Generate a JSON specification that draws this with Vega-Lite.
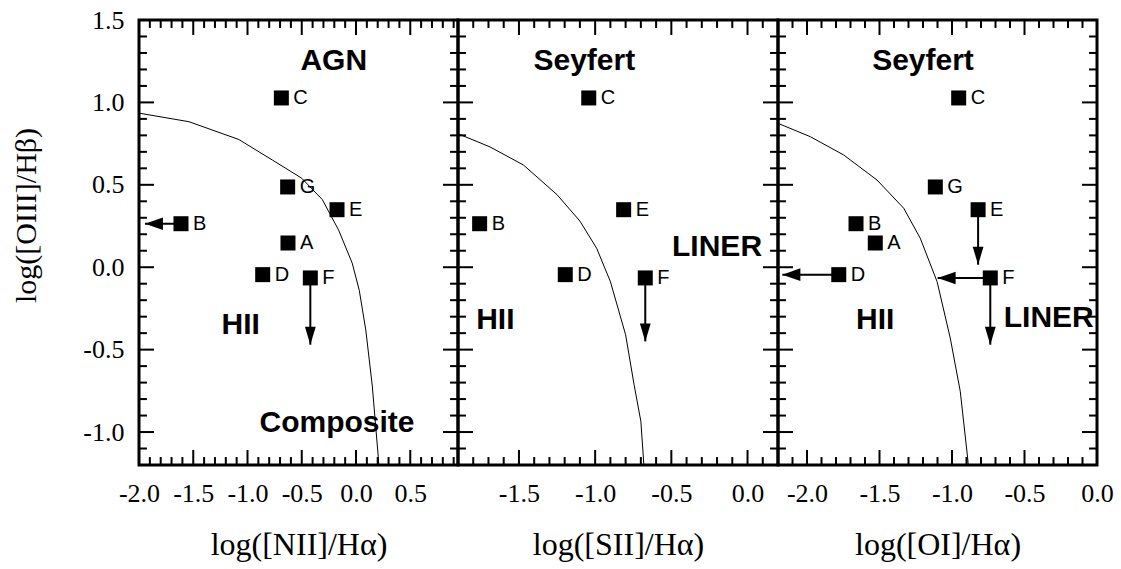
{
  "$schema": "https://vega.github.io/schema/vega-lite/v6.json",
  "autosize": {"type": "pad"},
  "padding": {"left": 9, "top": 5, "right": 5, "bottom": 5},
  "background": "white",
  "spacing": 0,
  "bounds": "flush",
  "config": {
    "view": {"stroke": "black", "strokeWidth": 3},
    "axis": {
      "grid": false,
      "domain": false,
      "ticks": false,
      "tickSize": 0,
      "labelPadding": 15,
      "labelFont": "Liberation Serif",
      "labelFontSize": 26,
      "labelColor": "black",
      "titleFont": "Liberation Serif",
      "titleFontWeight": "normal",
      "titleColor": "black",
      "labelFlush": false,
      "labelOverlap": false,
      "labelBound": false
    }
  },
  "datasets": {
    "xticks": [
      {"panel": "NII", "x": -1.9, "kind": "minor", "lo": -1.2, "hi": 1.5}, {"panel": "NII", "x": -1.8, "kind": "minor", "lo": -1.2, "hi": 1.5},
      {"panel": "NII", "x": -1.7, "kind": "minor", "lo": -1.2, "hi": 1.5}, {"panel": "NII", "x": -1.6, "kind": "minor", "lo": -1.2, "hi": 1.5},
      {"panel": "NII", "x": -1.5, "kind": "major", "lo": -1.2, "hi": 1.5}, {"panel": "NII", "x": -1.4, "kind": "minor", "lo": -1.2, "hi": 1.5},
      {"panel": "NII", "x": -1.3, "kind": "minor", "lo": -1.2, "hi": 1.5}, {"panel": "NII", "x": -1.2, "kind": "minor", "lo": -1.2, "hi": 1.5},
      {"panel": "NII", "x": -1.1, "kind": "minor", "lo": -1.2, "hi": 1.5}, {"panel": "NII", "x": -1.0, "kind": "major", "lo": -1.2, "hi": 1.5},
      {"panel": "NII", "x": -0.9, "kind": "minor", "lo": -1.2, "hi": 1.5}, {"panel": "NII", "x": -0.8, "kind": "minor", "lo": -1.2, "hi": 1.5},
      {"panel": "NII", "x": -0.7, "kind": "minor", "lo": -1.2, "hi": 1.5}, {"panel": "NII", "x": -0.6, "kind": "minor", "lo": -1.2, "hi": 1.5},
      {"panel": "NII", "x": -0.5, "kind": "major", "lo": -1.2, "hi": 1.5}, {"panel": "NII", "x": -0.4, "kind": "minor", "lo": -1.2, "hi": 1.5},
      {"panel": "NII", "x": -0.3, "kind": "minor", "lo": -1.2, "hi": 1.5}, {"panel": "NII", "x": -0.2, "kind": "minor", "lo": -1.2, "hi": 1.5},
      {"panel": "NII", "x": -0.1, "kind": "minor", "lo": -1.2, "hi": 1.5}, {"panel": "NII", "x": 0.0, "kind": "major", "lo": -1.2, "hi": 1.5},
      {"panel": "NII", "x": 0.1, "kind": "minor", "lo": -1.2, "hi": 1.5}, {"panel": "NII", "x": 0.2, "kind": "minor", "lo": -1.2, "hi": 1.5},
      {"panel": "NII", "x": 0.3, "kind": "minor", "lo": -1.2, "hi": 1.5}, {"panel": "NII", "x": 0.4, "kind": "minor", "lo": -1.2, "hi": 1.5},
      {"panel": "NII", "x": 0.5, "kind": "major", "lo": -1.2, "hi": 1.5}, {"panel": "NII", "x": 0.6, "kind": "minor", "lo": -1.2, "hi": 1.5},
      {"panel": "NII", "x": 0.7, "kind": "minor", "lo": -1.2, "hi": 1.5}, {"panel": "NII", "x": 0.8, "kind": "minor", "lo": -1.2, "hi": 1.5},
      {"panel": "NII", "x": 0.9, "kind": "minor", "lo": -1.2, "hi": 1.5},
      {"panel": "SII", "x": -1.8, "kind": "minor", "lo": -1.2, "hi": 1.5}, {"panel": "SII", "x": -1.7, "kind": "minor", "lo": -1.2, "hi": 1.5},
      {"panel": "SII", "x": -1.6, "kind": "minor", "lo": -1.2, "hi": 1.5}, {"panel": "SII", "x": -1.5, "kind": "major", "lo": -1.2, "hi": 1.5},
      {"panel": "SII", "x": -1.4, "kind": "minor", "lo": -1.2, "hi": 1.5}, {"panel": "SII", "x": -1.3, "kind": "minor", "lo": -1.2, "hi": 1.5},
      {"panel": "SII", "x": -1.2, "kind": "minor", "lo": -1.2, "hi": 1.5}, {"panel": "SII", "x": -1.1, "kind": "minor", "lo": -1.2, "hi": 1.5},
      {"panel": "SII", "x": -1.0, "kind": "major", "lo": -1.2, "hi": 1.5}, {"panel": "SII", "x": -0.9, "kind": "minor", "lo": -1.2, "hi": 1.5},
      {"panel": "SII", "x": -0.8, "kind": "minor", "lo": -1.2, "hi": 1.5}, {"panel": "SII", "x": -0.7, "kind": "minor", "lo": -1.2, "hi": 1.5},
      {"panel": "SII", "x": -0.6, "kind": "minor", "lo": -1.2, "hi": 1.5}, {"panel": "SII", "x": -0.5, "kind": "major", "lo": -1.2, "hi": 1.5},
      {"panel": "SII", "x": -0.4, "kind": "minor", "lo": -1.2, "hi": 1.5}, {"panel": "SII", "x": -0.3, "kind": "minor", "lo": -1.2, "hi": 1.5},
      {"panel": "SII", "x": -0.2, "kind": "minor", "lo": -1.2, "hi": 1.5}, {"panel": "SII", "x": -0.1, "kind": "minor", "lo": -1.2, "hi": 1.5},
      {"panel": "SII", "x": 0.0, "kind": "major", "lo": -1.2, "hi": 1.5}, {"panel": "SII", "x": 0.1, "kind": "minor", "lo": -1.2, "hi": 1.5},
      {"panel": "OI", "x": -2.1, "kind": "minor", "lo": -1.2, "hi": 1.5}, {"panel": "OI", "x": -2.0, "kind": "major", "lo": -1.2, "hi": 1.5},
      {"panel": "OI", "x": -1.9, "kind": "minor", "lo": -1.2, "hi": 1.5}, {"panel": "OI", "x": -1.8, "kind": "minor", "lo": -1.2, "hi": 1.5},
      {"panel": "OI", "x": -1.7, "kind": "minor", "lo": -1.2, "hi": 1.5}, {"panel": "OI", "x": -1.6, "kind": "minor", "lo": -1.2, "hi": 1.5},
      {"panel": "OI", "x": -1.5, "kind": "major", "lo": -1.2, "hi": 1.5}, {"panel": "OI", "x": -1.4, "kind": "minor", "lo": -1.2, "hi": 1.5},
      {"panel": "OI", "x": -1.3, "kind": "minor", "lo": -1.2, "hi": 1.5}, {"panel": "OI", "x": -1.2, "kind": "minor", "lo": -1.2, "hi": 1.5},
      {"panel": "OI", "x": -1.1, "kind": "minor", "lo": -1.2, "hi": 1.5}, {"panel": "OI", "x": -1.0, "kind": "major", "lo": -1.2, "hi": 1.5},
      {"panel": "OI", "x": -0.9, "kind": "minor", "lo": -1.2, "hi": 1.5}, {"panel": "OI", "x": -0.8, "kind": "minor", "lo": -1.2, "hi": 1.5},
      {"panel": "OI", "x": -0.7, "kind": "minor", "lo": -1.2, "hi": 1.5}, {"panel": "OI", "x": -0.6, "kind": "minor", "lo": -1.2, "hi": 1.5},
      {"panel": "OI", "x": -0.5, "kind": "major", "lo": -1.2, "hi": 1.5}, {"panel": "OI", "x": -0.4, "kind": "minor", "lo": -1.2, "hi": 1.5},
      {"panel": "OI", "x": -0.3, "kind": "minor", "lo": -1.2, "hi": 1.5}, {"panel": "OI", "x": -0.2, "kind": "minor", "lo": -1.2, "hi": 1.5},
      {"panel": "OI", "x": -0.1, "kind": "minor", "lo": -1.2, "hi": 1.5}
    ],
    "yticks": [
      {"panel": "NII", "y": -1.1, "kind": "minor", "lo": -2, "hi": 0.94}, {"panel": "NII", "y": -1.0, "kind": "major", "lo": -2, "hi": 0.94},
      {"panel": "NII", "y": -0.9, "kind": "minor", "lo": -2, "hi": 0.94}, {"panel": "NII", "y": -0.8, "kind": "minor", "lo": -2, "hi": 0.94},
      {"panel": "NII", "y": -0.7, "kind": "minor", "lo": -2, "hi": 0.94}, {"panel": "NII", "y": -0.6, "kind": "minor", "lo": -2, "hi": 0.94},
      {"panel": "NII", "y": -0.5, "kind": "major", "lo": -2, "hi": 0.94}, {"panel": "NII", "y": -0.4, "kind": "minor", "lo": -2, "hi": 0.94},
      {"panel": "NII", "y": -0.3, "kind": "minor", "lo": -2, "hi": 0.94}, {"panel": "NII", "y": -0.2, "kind": "minor", "lo": -2, "hi": 0.94},
      {"panel": "NII", "y": -0.1, "kind": "minor", "lo": -2, "hi": 0.94}, {"panel": "NII", "y": 0.0, "kind": "major", "lo": -2, "hi": 0.94},
      {"panel": "NII", "y": 0.1, "kind": "minor", "lo": -2, "hi": 0.94}, {"panel": "NII", "y": 0.2, "kind": "minor", "lo": -2, "hi": 0.94},
      {"panel": "NII", "y": 0.3, "kind": "minor", "lo": -2, "hi": 0.94}, {"panel": "NII", "y": 0.4, "kind": "minor", "lo": -2, "hi": 0.94},
      {"panel": "NII", "y": 0.5, "kind": "major", "lo": -2, "hi": 0.94}, {"panel": "NII", "y": 0.6, "kind": "minor", "lo": -2, "hi": 0.94},
      {"panel": "NII", "y": 0.7, "kind": "minor", "lo": -2, "hi": 0.94}, {"panel": "NII", "y": 0.8, "kind": "minor", "lo": -2, "hi": 0.94},
      {"panel": "NII", "y": 0.9, "kind": "minor", "lo": -2, "hi": 0.94}, {"panel": "NII", "y": 1.0, "kind": "major", "lo": -2, "hi": 0.94},
      {"panel": "NII", "y": 1.1, "kind": "minor", "lo": -2, "hi": 0.94}, {"panel": "NII", "y": 1.2, "kind": "minor", "lo": -2, "hi": 0.94},
      {"panel": "NII", "y": 1.3, "kind": "minor", "lo": -2, "hi": 0.94}, {"panel": "NII", "y": 1.4, "kind": "minor", "lo": -2, "hi": 0.94},
      {"panel": "SII", "y": -1.1, "kind": "minor", "lo": -1.9, "hi": 0.2}, {"panel": "SII", "y": -1.0, "kind": "major", "lo": -1.9, "hi": 0.2},
      {"panel": "SII", "y": -0.9, "kind": "minor", "lo": -1.9, "hi": 0.2}, {"panel": "SII", "y": -0.8, "kind": "minor", "lo": -1.9, "hi": 0.2},
      {"panel": "SII", "y": -0.7, "kind": "minor", "lo": -1.9, "hi": 0.2}, {"panel": "SII", "y": -0.6, "kind": "minor", "lo": -1.9, "hi": 0.2},
      {"panel": "SII", "y": -0.5, "kind": "major", "lo": -1.9, "hi": 0.2}, {"panel": "SII", "y": -0.4, "kind": "minor", "lo": -1.9, "hi": 0.2},
      {"panel": "SII", "y": -0.3, "kind": "minor", "lo": -1.9, "hi": 0.2}, {"panel": "SII", "y": -0.2, "kind": "minor", "lo": -1.9, "hi": 0.2},
      {"panel": "SII", "y": -0.1, "kind": "minor", "lo": -1.9, "hi": 0.2}, {"panel": "SII", "y": 0.0, "kind": "major", "lo": -1.9, "hi": 0.2},
      {"panel": "SII", "y": 0.1, "kind": "minor", "lo": -1.9, "hi": 0.2}, {"panel": "SII", "y": 0.2, "kind": "minor", "lo": -1.9, "hi": 0.2},
      {"panel": "SII", "y": 0.3, "kind": "minor", "lo": -1.9, "hi": 0.2}, {"panel": "SII", "y": 0.4, "kind": "minor", "lo": -1.9, "hi": 0.2},
      {"panel": "SII", "y": 0.5, "kind": "major", "lo": -1.9, "hi": 0.2}, {"panel": "SII", "y": 0.6, "kind": "minor", "lo": -1.9, "hi": 0.2},
      {"panel": "SII", "y": 0.7, "kind": "minor", "lo": -1.9, "hi": 0.2}, {"panel": "SII", "y": 0.8, "kind": "minor", "lo": -1.9, "hi": 0.2},
      {"panel": "SII", "y": 0.9, "kind": "minor", "lo": -1.9, "hi": 0.2}, {"panel": "SII", "y": 1.0, "kind": "major", "lo": -1.9, "hi": 0.2},
      {"panel": "SII", "y": 1.1, "kind": "minor", "lo": -1.9, "hi": 0.2}, {"panel": "SII", "y": 1.2, "kind": "minor", "lo": -1.9, "hi": 0.2},
      {"panel": "SII", "y": 1.3, "kind": "minor", "lo": -1.9, "hi": 0.2}, {"panel": "SII", "y": 1.4, "kind": "minor", "lo": -1.9, "hi": 0.2},
      {"panel": "OI", "y": -1.1, "kind": "minor", "lo": -2.2, "hi": 0}, {"panel": "OI", "y": -1.0, "kind": "major", "lo": -2.2, "hi": 0},
      {"panel": "OI", "y": -0.9, "kind": "minor", "lo": -2.2, "hi": 0}, {"panel": "OI", "y": -0.8, "kind": "minor", "lo": -2.2, "hi": 0},
      {"panel": "OI", "y": -0.7, "kind": "minor", "lo": -2.2, "hi": 0}, {"panel": "OI", "y": -0.6, "kind": "minor", "lo": -2.2, "hi": 0},
      {"panel": "OI", "y": -0.5, "kind": "major", "lo": -2.2, "hi": 0}, {"panel": "OI", "y": -0.4, "kind": "minor", "lo": -2.2, "hi": 0},
      {"panel": "OI", "y": -0.3, "kind": "minor", "lo": -2.2, "hi": 0}, {"panel": "OI", "y": -0.2, "kind": "minor", "lo": -2.2, "hi": 0},
      {"panel": "OI", "y": -0.1, "kind": "minor", "lo": -2.2, "hi": 0}, {"panel": "OI", "y": 0.0, "kind": "major", "lo": -2.2, "hi": 0},
      {"panel": "OI", "y": 0.1, "kind": "minor", "lo": -2.2, "hi": 0}, {"panel": "OI", "y": 0.2, "kind": "minor", "lo": -2.2, "hi": 0},
      {"panel": "OI", "y": 0.3, "kind": "minor", "lo": -2.2, "hi": 0}, {"panel": "OI", "y": 0.4, "kind": "minor", "lo": -2.2, "hi": 0},
      {"panel": "OI", "y": 0.5, "kind": "major", "lo": -2.2, "hi": 0}, {"panel": "OI", "y": 0.6, "kind": "minor", "lo": -2.2, "hi": 0},
      {"panel": "OI", "y": 0.7, "kind": "minor", "lo": -2.2, "hi": 0}, {"panel": "OI", "y": 0.8, "kind": "minor", "lo": -2.2, "hi": 0},
      {"panel": "OI", "y": 0.9, "kind": "minor", "lo": -2.2, "hi": 0}, {"panel": "OI", "y": 1.0, "kind": "major", "lo": -2.2, "hi": 0},
      {"panel": "OI", "y": 1.1, "kind": "minor", "lo": -2.2, "hi": 0}, {"panel": "OI", "y": 1.2, "kind": "minor", "lo": -2.2, "hi": 0},
      {"panel": "OI", "y": 1.3, "kind": "minor", "lo": -2.2, "hi": 0}, {"panel": "OI", "y": 1.4, "kind": "minor", "lo": -2.2, "hi": 0}
    ],
    "curves": [
      {"panel": "NII", "i": 0, "x": -2.0, "y": 0.935},
      {"panel": "NII", "i": 1, "x": -1.54, "y": 0.883},
      {"panel": "NII", "i": 2, "x": -1.08, "y": 0.775},
      {"panel": "NII", "i": 3, "x": -0.77, "y": 0.65},
      {"panel": "NII", "i": 4, "x": -0.5, "y": 0.54},
      {"panel": "NII", "i": 5, "x": -0.31, "y": 0.41},
      {"panel": "NII", "i": 6, "x": -0.16, "y": 0.225},
      {"panel": "NII", "i": 7, "x": -0.035, "y": 0.025},
      {"panel": "NII", "i": 8, "x": 0.03, "y": -0.14},
      {"panel": "NII", "i": 9, "x": 0.09, "y": -0.38},
      {"panel": "NII", "i": 10, "x": 0.15, "y": -0.72},
      {"panel": "NII", "i": 11, "x": 0.205, "y": -1.15},
      {"panel": "NII", "i": 12, "x": 0.21, "y": -1.2},
      {"panel": "SII", "i": 0, "x": -1.9, "y": 0.81},
      {"panel": "SII", "i": 1, "x": -1.69, "y": 0.73},
      {"panel": "SII", "i": 2, "x": -1.47, "y": 0.62},
      {"panel": "SII", "i": 3, "x": -1.25, "y": 0.44},
      {"panel": "SII", "i": 4, "x": -1.1, "y": 0.28},
      {"panel": "SII", "i": 5, "x": -0.99, "y": 0.115},
      {"panel": "SII", "i": 6, "x": -0.9, "y": -0.087},
      {"panel": "SII", "i": 7, "x": -0.8, "y": -0.41},
      {"panel": "SII", "i": 8, "x": -0.745, "y": -0.71},
      {"panel": "SII", "i": 9, "x": -0.7, "y": -0.935},
      {"panel": "SII", "i": 10, "x": -0.68, "y": -1.2},
      {"panel": "OI", "i": 0, "x": -2.2, "y": 0.873},
      {"panel": "OI", "i": 1, "x": -1.977, "y": 0.792},
      {"panel": "OI", "i": 2, "x": -1.747, "y": 0.681},
      {"panel": "OI", "i": 3, "x": -1.517, "y": 0.529},
      {"panel": "OI", "i": 4, "x": -1.333, "y": 0.358},
      {"panel": "OI", "i": 5, "x": -1.219, "y": 0.176},
      {"panel": "OI", "i": 6, "x": -1.103, "y": -0.087},
      {"panel": "OI", "i": 7, "x": -1.012, "y": -0.43},
      {"panel": "OI", "i": 8, "x": -0.943, "y": -0.753},
      {"panel": "OI", "i": 9, "x": -0.892, "y": -1.158},
      {"panel": "OI", "i": 10, "x": -0.888, "y": -1.2}
    ],
    "points": [
      {"panel": "NII", "name": "A", "x": -0.627, "y": 0.147},
      {"panel": "NII", "name": "B", "x": -1.613, "y": 0.264},
      {"panel": "NII", "name": "C", "x": -0.688, "y": 1.027},
      {"panel": "NII", "name": "D", "x": -0.86, "y": -0.045},
      {"panel": "NII", "name": "E", "x": -0.175, "y": 0.349},
      {"panel": "NII", "name": "F", "x": -0.421, "y": -0.065},
      {"panel": "NII", "name": "G", "x": -0.63, "y": 0.487},
      {"panel": "SII", "name": "B", "x": -1.758, "y": 0.264},
      {"panel": "SII", "name": "C", "x": -1.042, "y": 1.027},
      {"panel": "SII", "name": "D", "x": -1.196, "y": -0.045},
      {"panel": "SII", "name": "E", "x": -0.813, "y": 0.349},
      {"panel": "SII", "name": "F", "x": -0.671, "y": -0.065},
      {"panel": "OI", "name": "A", "x": -1.529, "y": 0.147},
      {"panel": "OI", "name": "B", "x": -1.662, "y": 0.264},
      {"panel": "OI", "name": "C", "x": -0.954, "y": 1.027},
      {"panel": "OI", "name": "D", "x": -1.781, "y": -0.045},
      {"panel": "OI", "name": "E", "x": -0.82, "y": 0.349},
      {"panel": "OI", "name": "F", "x": -0.736, "y": -0.065},
      {"panel": "OI", "name": "G", "x": -1.115, "y": 0.487}
    ],
    "arrows": [
      {"panel": "NII", "name": "B", "x": -1.613, "y": 0.264, "x2": -1.945, "y2": 0.264, "dir": "left"},
      {"panel": "NII", "name": "F", "x": -0.421, "y": -0.065, "x2": -0.421, "y2": -0.47, "dir": "down"},
      {"panel": "SII", "name": "F", "x": -0.671, "y": -0.065, "x2": -0.671, "y2": -0.45, "dir": "down"},
      {"panel": "OI", "name": "D", "x": -1.781, "y": -0.045, "x2": -2.17, "y2": -0.045, "dir": "left"},
      {"panel": "OI", "name": "F", "x": -0.736, "y": -0.065, "x2": -1.099, "y2": -0.065, "dir": "left"},
      {"panel": "OI", "name": "F", "x": -0.736, "y": -0.065, "x2": -0.736, "y2": -0.47, "dir": "down"},
      {"panel": "OI", "name": "E", "x": -0.82, "y": 0.349, "x2": -0.82, "y2": 0.015, "dir": "down"}
    ],
    "regions": [
      {"panel": "NII", "label": "AGN", "x": -0.205, "y": 1.249},
      {"panel": "NII", "label": "HII", "x": -1.063, "y": -0.349},
      {"panel": "NII", "label": "Composite", "x": -0.175, "y": -0.945},
      {"panel": "SII", "label": "Seyfert", "x": -1.071, "y": 1.249},
      {"panel": "SII", "label": "LINER", "x": -0.2, "y": 0.125},
      {"panel": "SII", "label": "HII", "x": -1.655, "y": -0.319},
      {"panel": "OI", "label": "Seyfert", "x": -1.2, "y": 1.249},
      {"panel": "OI", "label": "HII", "x": -1.529, "y": -0.319},
      {"panel": "OI", "label": "LINER", "x": -0.333, "y": -0.308}
    ]
  },
  "hconcat": [
    {
      "width": 319,
      "height": 445,
      "resolve": {"axis": {"x": "independent", "y": "independent"}, "scale": {"shape": "independent"}},
      "layer": [
        {
          "data": {"name": "xticks"},
          "transform": [{"filter": "datum.panel === 'NII'"}],
          "mark": {"type": "point", "filled": true, "size": 900, "color": "black", "opacity": 1, "strokeWidth": 0},
          "encoding": {
            "x": {"field": "x", "type": "quantitative", "scale": {"domain": [-2, 0.94], "nice": false, "zero": false}, "axis": null},
            "y": {"field": "lo", "type": "quantitative", "scale": {"domain": [-1.2, 1.5], "nice": false, "zero": false}, "axis": null},
            "shape": {"field": "kind", "type": "nominal", "legend": null,
              "scale": {"domain": ["major", "minor"], "range": ["M -0.067 0 L 0.067 0 L 0.067 -1 L -0.067 -1 Z", "M -0.067 0 L 0.067 0 L 0.067 -0.53 L -0.067 -0.53 Z"]}}
          }
        },
        {
          "data": {"name": "xticks"},
          "transform": [{"filter": "datum.panel === 'NII'"}],
          "mark": {"type": "point", "filled": true, "size": 900, "color": "black", "opacity": 1, "strokeWidth": 0},
          "encoding": {
            "x": {"field": "x", "type": "quantitative", "scale": {"domain": [-2, 0.94], "nice": false, "zero": false}, "axis": null},
            "y": {"field": "hi", "type": "quantitative", "scale": {"domain": [-1.2, 1.5], "nice": false, "zero": false}, "axis": null},
            "shape": {"field": "kind", "type": "nominal", "legend": null,
              "scale": {"domain": ["major", "minor"], "range": ["M -0.067 0 L 0.067 0 L 0.067 1 L -0.067 1 Z", "M -0.067 0 L 0.067 0 L 0.067 0.53 L -0.067 0.53 Z"]}}
          }
        },
        {
          "data": {"name": "yticks"},
          "transform": [{"filter": "datum.panel === 'NII'"}],
          "mark": {"type": "point", "filled": true, "size": 900, "color": "black", "opacity": 1, "strokeWidth": 0},
          "encoding": {
            "x": {"field": "lo", "type": "quantitative", "scale": {"domain": [-2, 0.94], "nice": false, "zero": false}, "axis": null},
            "y": {"field": "y", "type": "quantitative", "scale": {"domain": [-1.2, 1.5], "nice": false, "zero": false}, "axis": null},
            "shape": {"field": "kind", "type": "nominal", "legend": null,
              "scale": {"domain": ["major", "minor"], "range": ["M 0 -0.067 L 1 -0.067 L 1 0.067 L 0 0.067 Z", "M 0 -0.067 L 0.53 -0.067 L 0.53 0.067 L 0 0.067 Z"]}}
          }
        },
        {
          "data": {"name": "yticks"},
          "transform": [{"filter": "datum.panel === 'NII'"}],
          "mark": {"type": "point", "filled": true, "size": 900, "color": "black", "opacity": 1, "strokeWidth": 0},
          "encoding": {
            "x": {"field": "hi", "type": "quantitative", "scale": {"domain": [-2, 0.94], "nice": false, "zero": false}, "axis": null},
            "y": {"field": "y", "type": "quantitative", "scale": {"domain": [-1.2, 1.5], "nice": false, "zero": false}, "axis": null},
            "shape": {"field": "kind", "type": "nominal", "legend": null,
              "scale": {"domain": ["major", "minor"], "range": ["M 0 -0.067 L -1 -0.067 L -1 0.067 L 0 0.067 Z", "M 0 -0.067 L -0.53 -0.067 L -0.53 0.067 L 0 0.067 Z"]}}
          }
        },
        {
          "data": {"name": "curves"},
          "transform": [{"filter": "datum.panel === 'NII'"}],
          "mark": {"type": "line", "color": "black", "strokeWidth": 1},
          "encoding": {
            "x": {"field": "x", "type": "quantitative", "scale": {"domain": [-2, 0.94], "nice": false, "zero": false}, "axis": null},
            "y": {"field": "y", "type": "quantitative", "scale": {"domain": [-1.2, 1.5], "nice": false, "zero": false}, "axis": null},
            "order": {"field": "i", "type": "quantitative"}
          }
        },
        {
          "data": {"name": "points"},
          "transform": [{"filter": "datum.panel === 'NII'"}],
          "mark": {"type": "point", "shape": "square", "filled": true, "size": 225, "color": "black", "opacity": 1, "strokeWidth": 0},
          "encoding": {
            "x": {"field": "x", "type": "quantitative", "scale": {"domain": [-2, 0.94], "nice": false, "zero": false},
              "axis": {"orient": "bottom", "title": "log([NII]/Hα)", "titleFontSize": 32, "titleY": 89, "titleBaseline": "alphabetic",
                "values": [-2,-1.5,-1,-0.5,0,0.5],
                "labelExpr": "(datum.value < -0.001 ? '-' : '') + format(abs(datum.value), '.1f')"}},
            "y": {"field": "y", "type": "quantitative", "scale": {"domain": [-1.2, 1.5], "nice": false, "zero": false},
              "axis": {"orient": "left", "title": "log([OIII]/Hβ)", "titleFontSize": 30, "titleX": -104, "titleY": 195, "titleBaseline": "alphabetic", "titleAngle": -90,
                "values": [-1,-0.5,0,0.5,1,1.5],
                "labelExpr": "(datum.value < -0.001 ? '-' : '') + format(abs(datum.value), '.1f')"}}
          }
        },
        {
          "data": {"name": "arrows"},
          "transform": [{"filter": "datum.panel === 'NII'"}],
          "mark": {"type": "rule", "color": "black", "strokeWidth": 2},
          "encoding": {
            "x": {"field": "x", "type": "quantitative", "scale": {"domain": [-2, 0.94], "nice": false, "zero": false}, "axis": null},
            "y": {"field": "y", "type": "quantitative", "scale": {"domain": [-1.2, 1.5], "nice": false, "zero": false}, "axis": null},
            "x2": {"field": "x2"},
            "y2": {"field": "y2"}
          }
        },
        {
          "data": {"name": "arrows"},
          "transform": [{"filter": "datum.panel === 'NII'"}],
          "mark": {"type": "point", "filled": true, "size": 324, "color": "black", "opacity": 1, "strokeWidth": 0},
          "encoding": {
            "x": {"field": "x2", "type": "quantitative", "scale": {"domain": [-2, 0.94], "nice": false, "zero": false}, "axis": null},
            "y": {"field": "y2", "type": "quantitative", "scale": {"domain": [-1.2, 1.5], "nice": false, "zero": false}, "axis": null},
            "shape": {"field": "dir", "type": "nominal", "legend": null,
              "scale": {"domain": ["left", "down"], "range": ["M 0 0 L 2 -0.7 L 2 0.7 Z", "M 0 0 L -0.6 -2 L 0.6 -2 Z"]}}
          }
        },
        {
          "data": {"name": "points"},
          "transform": [{"filter": "datum.panel === 'NII'"}],
          "mark": {"type": "text", "align": "left", "baseline": "middle", "dx": 12, "font": "Liberation Sans", "fontSize": 20, "color": "black"},
          "encoding": {
            "x": {"field": "x", "type": "quantitative", "scale": {"domain": [-2, 0.94], "nice": false, "zero": false}, "axis": null},
            "y": {"field": "y", "type": "quantitative", "scale": {"domain": [-1.2, 1.5], "nice": false, "zero": false}, "axis": null},
            "text": {"field": "name"}
          }
        },
        {
          "data": {"name": "regions"},
          "transform": [{"filter": "datum.panel === 'NII'"}],
          "mark": {"type": "text", "align": "center", "baseline": "middle", "font": "Liberation Sans", "fontWeight": "bold", "fontSize": 30, "color": "black"},
          "encoding": {
            "x": {"field": "x", "type": "quantitative", "scale": {"domain": [-2, 0.94], "nice": false, "zero": false}, "axis": null},
            "y": {"field": "y", "type": "quantitative", "scale": {"domain": [-1.2, 1.5], "nice": false, "zero": false}, "axis": null},
            "text": {"field": "label"}
          }
        }
      ]
    },
    {
      "width": 320,
      "height": 445,
      "resolve": {"axis": {"x": "independent", "y": "independent"}, "scale": {"shape": "independent"}},
      "layer": [
        {
          "data": {"name": "xticks"},
          "transform": [{"filter": "datum.panel === 'SII'"}],
          "mark": {"type": "point", "filled": true, "size": 900, "color": "black", "opacity": 1, "strokeWidth": 0},
          "encoding": {
            "x": {"field": "x", "type": "quantitative", "scale": {"domain": [-1.9, 0.2], "nice": false, "zero": false}, "axis": null},
            "y": {"field": "lo", "type": "quantitative", "scale": {"domain": [-1.2, 1.5], "nice": false, "zero": false}, "axis": null},
            "shape": {"field": "kind", "type": "nominal", "legend": null,
              "scale": {"domain": ["major", "minor"], "range": ["M -0.067 0 L 0.067 0 L 0.067 -1 L -0.067 -1 Z", "M -0.067 0 L 0.067 0 L 0.067 -0.53 L -0.067 -0.53 Z"]}}
          }
        },
        {
          "data": {"name": "xticks"},
          "transform": [{"filter": "datum.panel === 'SII'"}],
          "mark": {"type": "point", "filled": true, "size": 900, "color": "black", "opacity": 1, "strokeWidth": 0},
          "encoding": {
            "x": {"field": "x", "type": "quantitative", "scale": {"domain": [-1.9, 0.2], "nice": false, "zero": false}, "axis": null},
            "y": {"field": "hi", "type": "quantitative", "scale": {"domain": [-1.2, 1.5], "nice": false, "zero": false}, "axis": null},
            "shape": {"field": "kind", "type": "nominal", "legend": null,
              "scale": {"domain": ["major", "minor"], "range": ["M -0.067 0 L 0.067 0 L 0.067 1 L -0.067 1 Z", "M -0.067 0 L 0.067 0 L 0.067 0.53 L -0.067 0.53 Z"]}}
          }
        },
        {
          "data": {"name": "yticks"},
          "transform": [{"filter": "datum.panel === 'SII'"}],
          "mark": {"type": "point", "filled": true, "size": 900, "color": "black", "opacity": 1, "strokeWidth": 0},
          "encoding": {
            "x": {"field": "lo", "type": "quantitative", "scale": {"domain": [-1.9, 0.2], "nice": false, "zero": false}, "axis": null},
            "y": {"field": "y", "type": "quantitative", "scale": {"domain": [-1.2, 1.5], "nice": false, "zero": false}, "axis": null},
            "shape": {"field": "kind", "type": "nominal", "legend": null,
              "scale": {"domain": ["major", "minor"], "range": ["M 0 -0.067 L 1 -0.067 L 1 0.067 L 0 0.067 Z", "M 0 -0.067 L 0.53 -0.067 L 0.53 0.067 L 0 0.067 Z"]}}
          }
        },
        {
          "data": {"name": "yticks"},
          "transform": [{"filter": "datum.panel === 'SII'"}],
          "mark": {"type": "point", "filled": true, "size": 900, "color": "black", "opacity": 1, "strokeWidth": 0},
          "encoding": {
            "x": {"field": "hi", "type": "quantitative", "scale": {"domain": [-1.9, 0.2], "nice": false, "zero": false}, "axis": null},
            "y": {"field": "y", "type": "quantitative", "scale": {"domain": [-1.2, 1.5], "nice": false, "zero": false}, "axis": null},
            "shape": {"field": "kind", "type": "nominal", "legend": null,
              "scale": {"domain": ["major", "minor"], "range": ["M 0 -0.067 L -1 -0.067 L -1 0.067 L 0 0.067 Z", "M 0 -0.067 L -0.53 -0.067 L -0.53 0.067 L 0 0.067 Z"]}}
          }
        },
        {
          "data": {"name": "curves"},
          "transform": [{"filter": "datum.panel === 'SII'"}],
          "mark": {"type": "line", "color": "black", "strokeWidth": 1},
          "encoding": {
            "x": {"field": "x", "type": "quantitative", "scale": {"domain": [-1.9, 0.2], "nice": false, "zero": false}, "axis": null},
            "y": {"field": "y", "type": "quantitative", "scale": {"domain": [-1.2, 1.5], "nice": false, "zero": false}, "axis": null},
            "order": {"field": "i", "type": "quantitative"}
          }
        },
        {
          "data": {"name": "points"},
          "transform": [{"filter": "datum.panel === 'SII'"}],
          "mark": {"type": "point", "shape": "square", "filled": true, "size": 225, "color": "black", "opacity": 1, "strokeWidth": 0},
          "encoding": {
            "x": {"field": "x", "type": "quantitative", "scale": {"domain": [-1.9, 0.2], "nice": false, "zero": false},
              "axis": {"orient": "bottom", "title": "log([SII]/Hα)", "titleFontSize": 32, "titleY": 89, "titleBaseline": "alphabetic",
                "values": [-1.5,-1,-0.5,0],
                "labelExpr": "(datum.value < -0.001 ? '-' : '') + format(abs(datum.value), '.1f')"}},
            "y": {"field": "y", "type": "quantitative", "scale": {"domain": [-1.2, 1.5], "nice": false, "zero": false}, "axis": null}
          }
        },
        {
          "data": {"name": "arrows"},
          "transform": [{"filter": "datum.panel === 'SII'"}],
          "mark": {"type": "rule", "color": "black", "strokeWidth": 2},
          "encoding": {
            "x": {"field": "x", "type": "quantitative", "scale": {"domain": [-1.9, 0.2], "nice": false, "zero": false}, "axis": null},
            "y": {"field": "y", "type": "quantitative", "scale": {"domain": [-1.2, 1.5], "nice": false, "zero": false}, "axis": null},
            "x2": {"field": "x2"},
            "y2": {"field": "y2"}
          }
        },
        {
          "data": {"name": "arrows"},
          "transform": [{"filter": "datum.panel === 'SII'"}],
          "mark": {"type": "point", "filled": true, "size": 324, "color": "black", "opacity": 1, "strokeWidth": 0},
          "encoding": {
            "x": {"field": "x2", "type": "quantitative", "scale": {"domain": [-1.9, 0.2], "nice": false, "zero": false}, "axis": null},
            "y": {"field": "y2", "type": "quantitative", "scale": {"domain": [-1.2, 1.5], "nice": false, "zero": false}, "axis": null},
            "shape": {"field": "dir", "type": "nominal", "legend": null,
              "scale": {"domain": ["left", "down"], "range": ["M 0 0 L 2 -0.7 L 2 0.7 Z", "M 0 0 L -0.6 -2 L 0.6 -2 Z"]}}
          }
        },
        {
          "data": {"name": "points"},
          "transform": [{"filter": "datum.panel === 'SII'"}],
          "mark": {"type": "text", "align": "left", "baseline": "middle", "dx": 12, "font": "Liberation Sans", "fontSize": 20, "color": "black"},
          "encoding": {
            "x": {"field": "x", "type": "quantitative", "scale": {"domain": [-1.9, 0.2], "nice": false, "zero": false}, "axis": null},
            "y": {"field": "y", "type": "quantitative", "scale": {"domain": [-1.2, 1.5], "nice": false, "zero": false}, "axis": null},
            "text": {"field": "name"}
          }
        },
        {
          "data": {"name": "regions"},
          "transform": [{"filter": "datum.panel === 'SII'"}],
          "mark": {"type": "text", "align": "center", "baseline": "middle", "font": "Liberation Sans", "fontWeight": "bold", "fontSize": 30, "color": "black"},
          "encoding": {
            "x": {"field": "x", "type": "quantitative", "scale": {"domain": [-1.9, 0.2], "nice": false, "zero": false}, "axis": null},
            "y": {"field": "y", "type": "quantitative", "scale": {"domain": [-1.2, 1.5], "nice": false, "zero": false}, "axis": null},
            "text": {"field": "label"}
          }
        }
      ]
    },
    {
      "width": 319,
      "height": 445,
      "resolve": {"axis": {"x": "independent", "y": "independent"}, "scale": {"shape": "independent"}},
      "layer": [
        {
          "data": {"name": "xticks"},
          "transform": [{"filter": "datum.panel === 'OI'"}],
          "mark": {"type": "point", "filled": true, "size": 900, "color": "black", "opacity": 1, "strokeWidth": 0},
          "encoding": {
            "x": {"field": "x", "type": "quantitative", "scale": {"domain": [-2.2, 0], "nice": false, "zero": false}, "axis": null},
            "y": {"field": "lo", "type": "quantitative", "scale": {"domain": [-1.2, 1.5], "nice": false, "zero": false}, "axis": null},
            "shape": {"field": "kind", "type": "nominal", "legend": null,
              "scale": {"domain": ["major", "minor"], "range": ["M -0.067 0 L 0.067 0 L 0.067 -1 L -0.067 -1 Z", "M -0.067 0 L 0.067 0 L 0.067 -0.53 L -0.067 -0.53 Z"]}}
          }
        },
        {
          "data": {"name": "xticks"},
          "transform": [{"filter": "datum.panel === 'OI'"}],
          "mark": {"type": "point", "filled": true, "size": 900, "color": "black", "opacity": 1, "strokeWidth": 0},
          "encoding": {
            "x": {"field": "x", "type": "quantitative", "scale": {"domain": [-2.2, 0], "nice": false, "zero": false}, "axis": null},
            "y": {"field": "hi", "type": "quantitative", "scale": {"domain": [-1.2, 1.5], "nice": false, "zero": false}, "axis": null},
            "shape": {"field": "kind", "type": "nominal", "legend": null,
              "scale": {"domain": ["major", "minor"], "range": ["M -0.067 0 L 0.067 0 L 0.067 1 L -0.067 1 Z", "M -0.067 0 L 0.067 0 L 0.067 0.53 L -0.067 0.53 Z"]}}
          }
        },
        {
          "data": {"name": "yticks"},
          "transform": [{"filter": "datum.panel === 'OI'"}],
          "mark": {"type": "point", "filled": true, "size": 900, "color": "black", "opacity": 1, "strokeWidth": 0},
          "encoding": {
            "x": {"field": "lo", "type": "quantitative", "scale": {"domain": [-2.2, 0], "nice": false, "zero": false}, "axis": null},
            "y": {"field": "y", "type": "quantitative", "scale": {"domain": [-1.2, 1.5], "nice": false, "zero": false}, "axis": null},
            "shape": {"field": "kind", "type": "nominal", "legend": null,
              "scale": {"domain": ["major", "minor"], "range": ["M 0 -0.067 L 1 -0.067 L 1 0.067 L 0 0.067 Z", "M 0 -0.067 L 0.53 -0.067 L 0.53 0.067 L 0 0.067 Z"]}}
          }
        },
        {
          "data": {"name": "yticks"},
          "transform": [{"filter": "datum.panel === 'OI'"}],
          "mark": {"type": "point", "filled": true, "size": 900, "color": "black", "opacity": 1, "strokeWidth": 0},
          "encoding": {
            "x": {"field": "hi", "type": "quantitative", "scale": {"domain": [-2.2, 0], "nice": false, "zero": false}, "axis": null},
            "y": {"field": "y", "type": "quantitative", "scale": {"domain": [-1.2, 1.5], "nice": false, "zero": false}, "axis": null},
            "shape": {"field": "kind", "type": "nominal", "legend": null,
              "scale": {"domain": ["major", "minor"], "range": ["M 0 -0.067 L -1 -0.067 L -1 0.067 L 0 0.067 Z", "M 0 -0.067 L -0.53 -0.067 L -0.53 0.067 L 0 0.067 Z"]}}
          }
        },
        {
          "data": {"name": "curves"},
          "transform": [{"filter": "datum.panel === 'OI'"}],
          "mark": {"type": "line", "color": "black", "strokeWidth": 1},
          "encoding": {
            "x": {"field": "x", "type": "quantitative", "scale": {"domain": [-2.2, 0], "nice": false, "zero": false}, "axis": null},
            "y": {"field": "y", "type": "quantitative", "scale": {"domain": [-1.2, 1.5], "nice": false, "zero": false}, "axis": null},
            "order": {"field": "i", "type": "quantitative"}
          }
        },
        {
          "data": {"name": "points"},
          "transform": [{"filter": "datum.panel === 'OI'"}],
          "mark": {"type": "point", "shape": "square", "filled": true, "size": 225, "color": "black", "opacity": 1, "strokeWidth": 0},
          "encoding": {
            "x": {"field": "x", "type": "quantitative", "scale": {"domain": [-2.2, 0], "nice": false, "zero": false},
              "axis": {"orient": "bottom", "title": "log([OI]/Hα)", "titleFontSize": 32, "titleY": 89, "titleBaseline": "alphabetic",
                "values": [-2,-1.5,-1,-0.5,0],
                "labelExpr": "(datum.value < -0.001 ? '-' : '') + format(abs(datum.value), '.1f')"}},
            "y": {"field": "y", "type": "quantitative", "scale": {"domain": [-1.2, 1.5], "nice": false, "zero": false}, "axis": null}
          }
        },
        {
          "data": {"name": "arrows"},
          "transform": [{"filter": "datum.panel === 'OI'"}],
          "mark": {"type": "rule", "color": "black", "strokeWidth": 2},
          "encoding": {
            "x": {"field": "x", "type": "quantitative", "scale": {"domain": [-2.2, 0], "nice": false, "zero": false}, "axis": null},
            "y": {"field": "y", "type": "quantitative", "scale": {"domain": [-1.2, 1.5], "nice": false, "zero": false}, "axis": null},
            "x2": {"field": "x2"},
            "y2": {"field": "y2"}
          }
        },
        {
          "data": {"name": "arrows"},
          "transform": [{"filter": "datum.panel === 'OI'"}],
          "mark": {"type": "point", "filled": true, "size": 324, "color": "black", "opacity": 1, "strokeWidth": 0},
          "encoding": {
            "x": {"field": "x2", "type": "quantitative", "scale": {"domain": [-2.2, 0], "nice": false, "zero": false}, "axis": null},
            "y": {"field": "y2", "type": "quantitative", "scale": {"domain": [-1.2, 1.5], "nice": false, "zero": false}, "axis": null},
            "shape": {"field": "dir", "type": "nominal", "legend": null,
              "scale": {"domain": ["left", "down"], "range": ["M 0 0 L 2 -0.7 L 2 0.7 Z", "M 0 0 L -0.6 -2 L 0.6 -2 Z"]}}
          }
        },
        {
          "data": {"name": "points"},
          "transform": [{"filter": "datum.panel === 'OI'"}],
          "mark": {"type": "text", "align": "left", "baseline": "middle", "dx": 12, "font": "Liberation Sans", "fontSize": 20, "color": "black"},
          "encoding": {
            "x": {"field": "x", "type": "quantitative", "scale": {"domain": [-2.2, 0], "nice": false, "zero": false}, "axis": null},
            "y": {"field": "y", "type": "quantitative", "scale": {"domain": [-1.2, 1.5], "nice": false, "zero": false}, "axis": null},
            "text": {"field": "name"}
          }
        },
        {
          "data": {"name": "regions"},
          "transform": [{"filter": "datum.panel === 'OI'"}],
          "mark": {"type": "text", "align": "center", "baseline": "middle", "font": "Liberation Sans", "fontWeight": "bold", "fontSize": 30, "color": "black"},
          "encoding": {
            "x": {"field": "x", "type": "quantitative", "scale": {"domain": [-2.2, 0], "nice": false, "zero": false}, "axis": null},
            "y": {"field": "y", "type": "quantitative", "scale": {"domain": [-1.2, 1.5], "nice": false, "zero": false}, "axis": null},
            "text": {"field": "label"}
          }
        }
      ]
    }
  ]
}
